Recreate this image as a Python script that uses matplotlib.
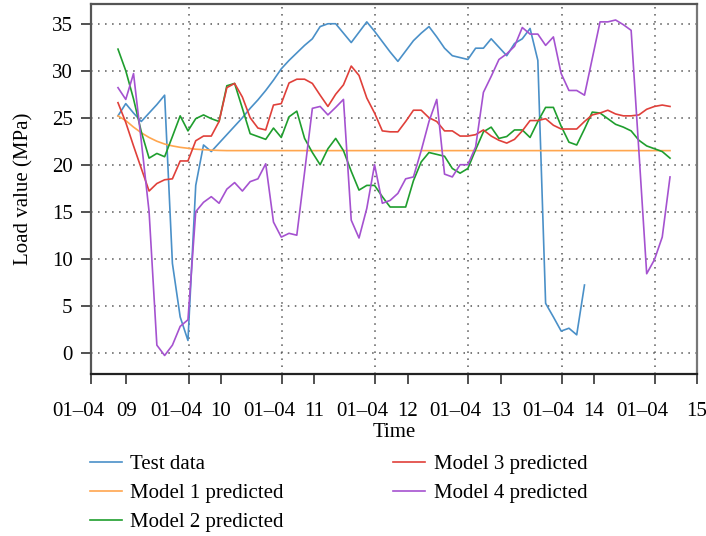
import matplotlib
matplotlib.use('Agg')
import matplotlib.pyplot as plt
from matplotlib.transforms import ScaledTranslation
import numpy as np

################################################################################
# Data.                                                                        #
################################################################################

test_data = [25.2, 26.5, 25.5, 24.6, 25.5, 26.4, 27.4, 9.5, 3.8, 1.3,
             17.8, 22.1, 21.4, 22.3, 23.2, 24.1, 25.0, 26.0, 26.9, 27.9,
             29.0, 30.2, 31.1, 31.9, 32.7, 33.4, 34.7, 35.0, 35.0, 34.0,
             33.0, 34.1, 35.2, 34.2, 33.1, 32.0, 31.0, 32.1, 33.2, 34.0,
             34.7, 33.6, 32.4, 31.6, 31.4, 31.2, 32.4, 32.4, 33.4, 32.5,
             31.6, 32.9, 33.4, 34.5, 31.1, 5.25, 3.8, 2.3, 2.6, 1.9,
             7.2]

model1 = [25.2, 24.7, 24.0, 23.4, 22.9, 22.5, 22.2, 22.0, 21.85, 21.75,
          21.65, 21.6, 21.55, 21.52, 21.5, 21.5, 21.5, 21.5, 21.5, 21.5,
          21.5, 21.5, 21.5, 21.5, 21.5, 21.5, 21.5, 21.5, 21.5, 21.5,
          21.5, 21.5, 21.5, 21.5, 21.5, 21.5, 21.5, 21.5, 21.5, 21.5,
          21.5, 21.5, 21.5, 21.5, 21.5, 21.5, 21.5, 21.5, 21.5, 21.5,
          21.5, 21.5, 21.5, 21.5, 21.5, 21.5, 21.5, 21.5, 21.5, 21.5,
          21.5, 21.5, 21.5, 21.5, 21.5, 21.5, 21.5, 21.5, 21.5, 21.5,
          21.5, 21.5]

model2 = [32.3, 30.0, 27.0, 23.5, 20.7, 21.2, 20.85, 23.0, 25.2, 23.6,
          24.9, 25.3, 24.9, 24.6, 28.4, 28.65, 26.0, 23.3, 23.0, 22.7,
          23.9, 22.9, 25.1, 25.7, 22.8, 21.3, 20.0, 21.7, 22.8, 21.5,
          19.3, 17.3, 17.8, 17.8, 16.6, 15.5, 15.5, 15.5, 18.3, 20.3,
          21.3, 21.1, 20.9, 19.6, 19.1, 19.6, 21.6, 23.5, 24.0, 22.8,
          23.0, 23.7, 23.7, 22.9, 24.6, 26.1, 26.1, 24.1, 22.4, 22.1,
          23.8, 25.6, 25.5, 24.9, 24.3, 24.0, 23.6, 22.6, 22.0, 21.7,
          21.4, 20.7]

model3 = [26.6, 24.5, 22.0, 19.6, 17.2, 18.0, 18.4, 18.5, 20.4, 20.4,
          22.55, 23.05, 23.05, 24.6, 28.2, 28.65, 27.2, 25.0, 23.9, 23.7,
          26.35, 26.5, 28.7, 29.1, 29.1, 28.65, 27.4, 26.2, 27.5, 28.5,
          30.5, 29.5, 27.1, 25.5, 23.6, 23.5, 23.5, 24.6, 25.8, 25.8,
          25.0, 24.6, 23.6, 23.6, 23.05, 23.05, 23.2, 23.7, 23.05, 22.6,
          22.3, 22.7, 23.6, 24.7, 24.7, 24.9, 24.2, 23.8, 23.8, 23.8,
          24.6, 25.3, 25.5, 25.8, 25.4, 25.2, 25.2, 25.3, 25.9, 26.2,
          26.35, 26.2]

model4 = [28.2, 26.95, 29.7, 22.5, 15.0, 0.8, -0.3, 0.8, 2.8, 3.5,
          15.0, 16.0, 16.6, 15.9, 17.4, 18.1, 17.2, 18.2, 18.5, 20.1,
          13.9, 12.3, 12.7, 12.5, 19.2, 26.0, 26.2, 25.3, 26.1, 26.95,
          14.1, 12.2, 15.35, 20.0, 15.9, 16.2, 16.95, 18.5, 18.7, 21.5,
          24.6, 26.95, 19.0, 18.7, 20.0, 20.0, 21.9, 27.7, 29.4, 31.2,
          31.8, 32.6, 34.6, 33.9, 33.9, 32.7, 33.6, 29.7, 27.9, 27.9,
          27.4, 31.3, 35.2, 35.2, 35.4, 34.9, 34.3, 21.4, 8.4, 9.9,
          12.3, 18.7]

day_labels = ['01\u201304'] * 7
hour_labels = ['09', '10', '11', '12', '13', '14', '15']

series = [
  (test_data, 'Test data', '#4a90c8'),
  (model1, 'Model 1 predicted', '#ffa64f'),
  (model2, 'Model 2 predicted', '#1f9e2e'),
  (model3, 'Model 3 predicted', '#e0403a'),
  (model4, 'Model 4 predicted', '#a552d0'),
]

################################################################################
# Plot.                                                                        #
################################################################################

plt.rcParams['font.family'] = ['Liberation Serif', 'DejaVu Serif']
plt.rcParams['font.size'] = 15

fig = plt.figure(figsize=(7.06, 5.36), dpi=100)
ax = fig.add_axes([0.1289, 0.3017, 0.8579, 0.6908])

for values, label, color in series:
  x = np.arange(len(values))
  ax.plot(x, values, '-', lw=1.2, c=color, label=label)

# Axis ranges.
ax.set_xlim(-3.47, 74.43)
ax.set_ylim(-2.3, 37.1)

# Day ticks carry the grid, hour ticks sit between them.
ax.set_xticks([-3.47, 9.13, 21.13, 33.08, 45.05, 57.07, 69.07])
ax.set_xticklabels(day_labels)
ax.set_xticks([1.07, 13.25, 25.25, 37.26, 49.2, 61.2, 74.43], minor=True)
ax.set_xticklabels(hour_labels, minor=True)
ax.set_yticks(np.arange(0, 36, 5))

ax.tick_params(axis='both', which='both', direction='out', length=7.2,
               width=1.2, color='#333333', labelsize=15)
ax.tick_params(axis='x', which='both', pad=12.5)
ax.tick_params(axis='y', pad=6)

# Day labels sit a little left of their ticks.
shift = ScaledTranslation(-0.13, 0, fig.dpi_scale_trans)
for lab in ax.get_xticklabels():
  lab.set_transform(lab.get_transform() + shift)

ax.grid(True, which='major', ls=(0, (1, 3.6)), lw=1.1, c='#555555')

for side, col in [('left', '#555555'), ('bottom', '#222222'),
                  ('top', '#555555'), ('right', '#777777')]:
  ax.spines[side].set_color(col)
  ax.spines[side].set_linewidth(1.6)

ax.set_xlabel('Time', fontsize=15, labelpad=2)
ax.set_ylabel('Load value (MPa)', fontsize=15, labelpad=13)

fig.legend(loc='upper left', bbox_to_anchor=(0.127, 0.152), ncol=2,
           frameon=False, fontsize=15, handlelength=1.54, handletextpad=0.42,
           columnspacing=5.25, labelspacing=0.46, borderpad=0, borderaxespad=0)

fig.savefig('out.png', dpi=100)
plt.close()
